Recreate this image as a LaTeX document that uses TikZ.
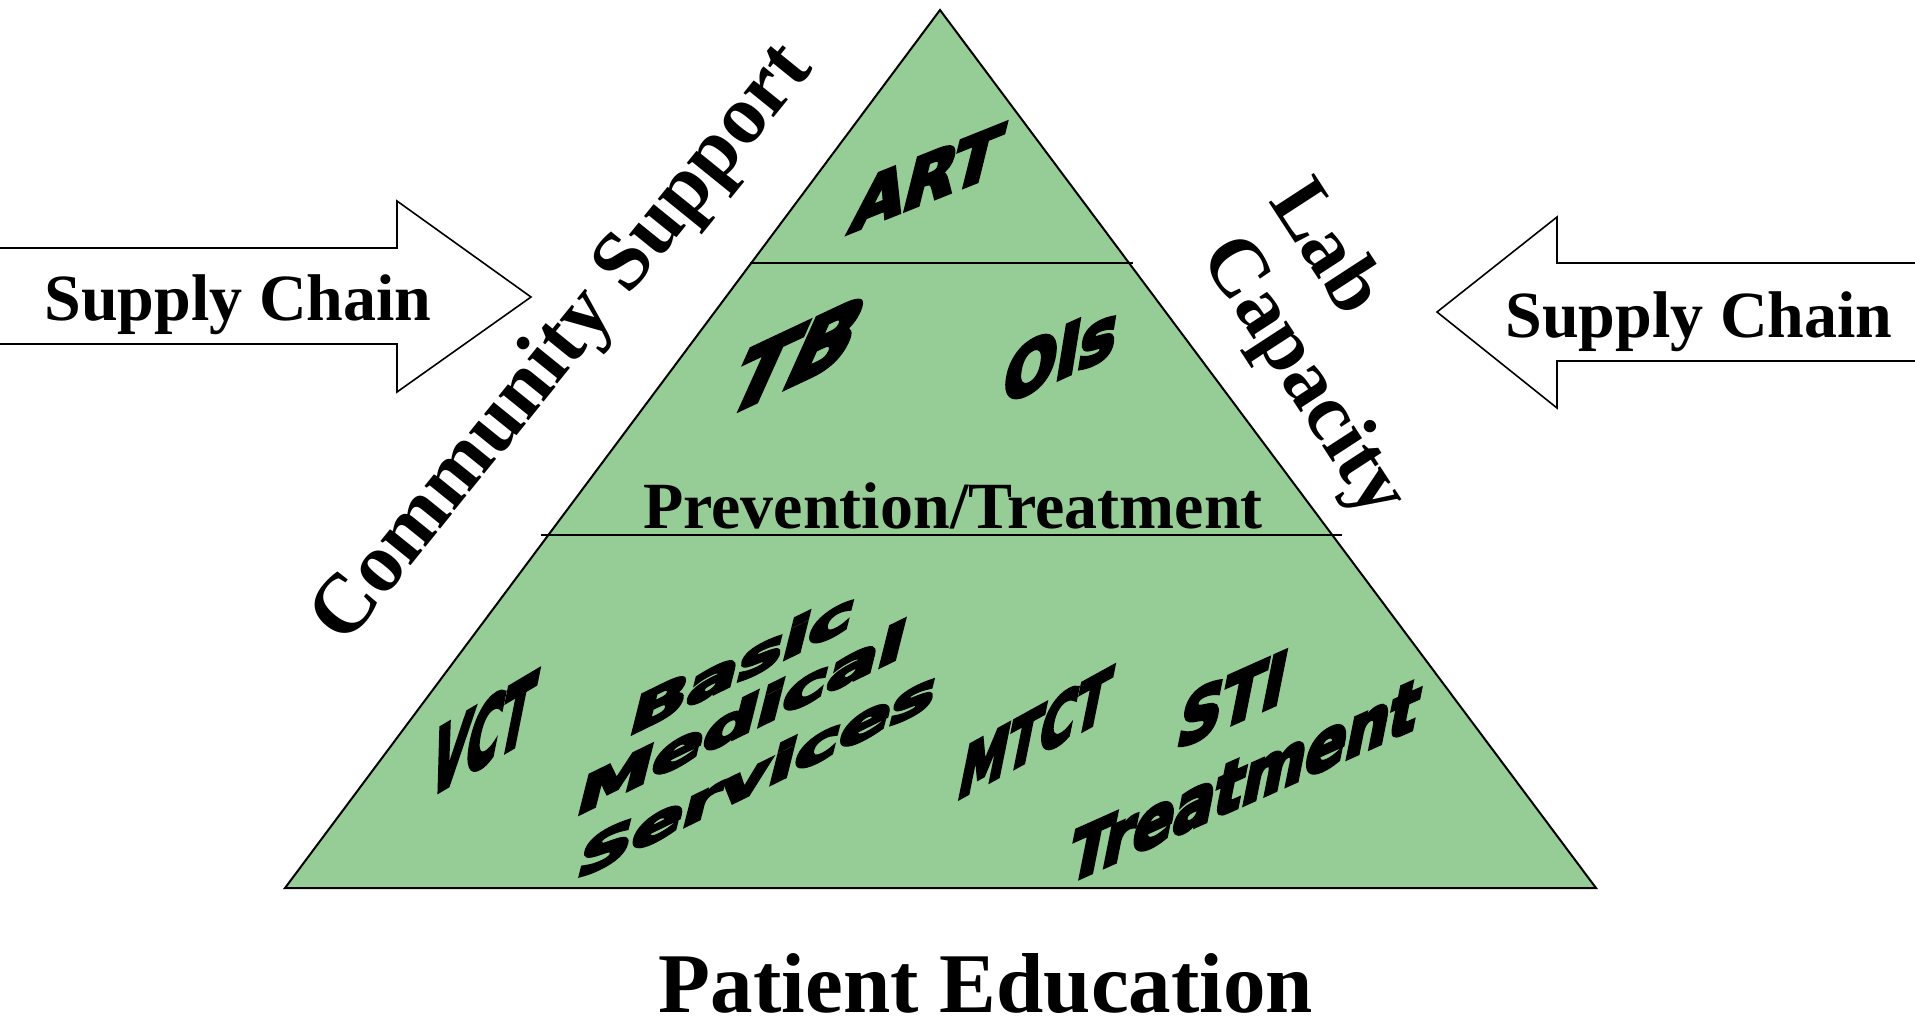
\documentclass[tikz,border=0pt]{standalone}
\usepackage{fontspec}
\setmainfont{Liberation Serif}
\newfontfamily\wafont{DejaVu Sans}[UprightFont={* Bold},FakeBold=6]
\definecolor{trigreen}{RGB}{150,205,150}
\begin{document}
\begin{tikzpicture}[x=0.5pt,y=-0.5pt,
  triedge/.style={draw=black,line width=1pt,line join=miter},
  divider/.style={draw=black,line width=0.8pt},
  arrowshape/.style={draw=black,line width=0.8pt,fill=white},
  serifmid/.style={font=\bfseries\fontsize{33}{36}\selectfont,inner sep=0pt},
  seriflarge/.style={font=\bfseries\fontsize{42}{46}\selectfont,inner sep=0pt},
  wa/.style={font=\wafont\fontsize{20}{24}\selectfont,inner sep=0pt}]
\useasboundingbox (0,0) rectangle (1915,1019);
\clip (0,0) rectangle (1915,1019);
\fill[white] (0,0) rectangle (1915,1019);
% triangle
\coordinate (apex) at (940,10);
\coordinate (bl) at (285,888);
\coordinate (br) at (1596,888);
\fill[trigreen] (apex) -- (bl) -- (br) -- cycle;
\draw[triedge] (apex) -- (bl) -- (br) -- cycle;
\coordinate (l1a) at (750,263); \coordinate (l1b) at (1133,263);
\coordinate (l2a) at (541,535); \coordinate (l2b) at (1342,535);
\draw[divider] (l1a) -- (l1b);
\draw[divider] (l2a) -- (l2b);
% arrows
\draw[arrowshape] (-10,248) -- (397,248) -- (397,201) -- (531,297) -- (397,392) -- (397,344) -- (-10,344) -- cycle;
\draw[arrowshape] (1925,263) -- (1557,263) -- (1557,217) -- (1437,312) -- (1557,408) -- (1557,361) -- (1925,361) -- cycle;
% serif labels
\node[serifmid,anchor=base] (scl) at (238,320) {Supply Chain};
\node[serifmid,anchor=base] (scr) at (1699,337) {Supply Chain};
\node[serifmid,anchor=base] (pt) at (953,528) {Prevention/Treatment};
\node[font=\bfseries\fontsize{42.5}{46}\selectfont,inner sep=0pt,anchor=base] (pe) at (986,1012) {Patient Education};
\node[seriflarge,rotate=51] (cs) at (564,345) {Community Support};
\node[font=\bfseries\fontsize{41}{45}\selectfont,inner sep=0pt,rotate=-57] (lab) at (1330,245) {Lab};
\node[font=\bfseries\fontsize{41}{45}\selectfont,inner sep=0pt,rotate=-57] (capa) at (1302,378) {Capacity};
% word-art labels
\node[wa,cm={1.673,0.669,0.449,1.797,(0,0)}] (art) at (927,178) {ART};
\node[wa,cm={2.15,1.01,1.08,2.4,(0,0)}] (tb) at (797,355) {TB};
\node[wa,cm={1.55,0.7,0.3,1.85,(0,0)}] (ois) at (1061,353) {OIs};
\node[wa,cm={1.13,0.67,0.48,2.4,(0,0)}] (vct) at (483,734) {VCT};
\node[wa,cm={1.88,0.92,0.34,1.35,(0,0)}] (basic) at (743,662) {Basic};
\node[wa,cm={1.88,0.92,0.34,1.35,(0,0)}] (medical) at (742,717) {Medical};
\node[wa,cm={1.88,0.92,0.34,1.35,(0,0)}] (services) at (758,773) {Services};
\node[wa,cm={1.2,0.66,0.37,1.83,(0,0)}] (mtct) at (1035,733) {MTCT};
\node[wa,cm={1.5,0.67,0.37,1.85,(0,0)}] (sti) at (1233,699) {STI};
\node[wa,cm={1.5,0.67,0.37,1.85,(0,0)}] (treat) at (1245,780) {Treatment};
\end{tikzpicture}
\end{document}
